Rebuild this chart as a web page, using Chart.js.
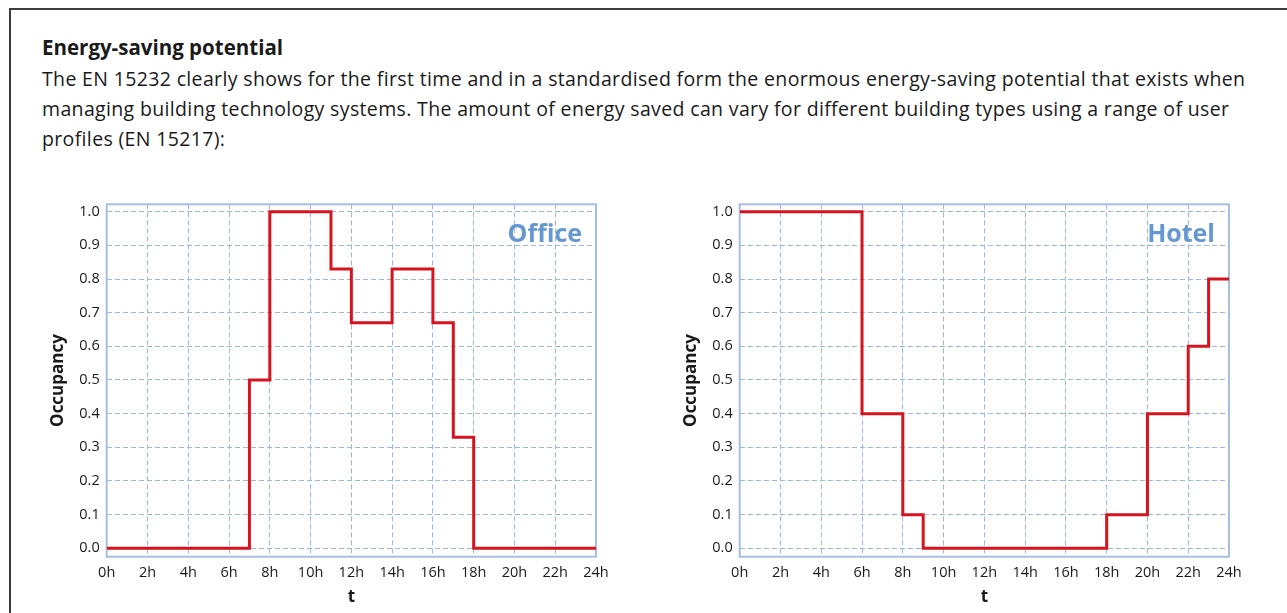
<!DOCTYPE html>
<html>
<head>
<meta charset="utf-8">
<title>Energy-saving potential</title>
<script src="https://cdn.jsdelivr.net/npm/chart.js@4.4.1/dist/chart.umd.min.js"></script>
<style>
  html, body { margin: 0; padding: 0; overflow: hidden; background: #fff; }
  body { width: 1287px; height: 613px; position: relative; font-family: "Open Sans", sans-serif; color: #1a1a1a; }
  .frame { position: absolute; left: 9px; top: 8px; width: 1400px; height: 700px; border-left: 2px solid #3c3c3c; border-top: 2px solid #3c3c3c; }
  h3 { position: absolute; left: 42px; top: 36px; margin: 0; font-size: 20.5px; line-height: 23px; font-weight: 700; white-space: nowrap; }
  p { position: absolute; left: 42px; top: 63.5px; margin: 0; font-size: 19.5px; letter-spacing: 0.35px; line-height: 30px; white-space: nowrap; }
  .chart-box { position: absolute; top: 195px; width: 620px; height: 418px; }
</style>
</head>
<body>
<div class="frame"></div>
<h3>Energy-saving potential</h3>
<p>The EN 15232 clearly shows for the first time and in a standardised form the enormous energy-saving potential that exists when<br>
managing building technology systems. The amount of energy saved can vary for different building types using a range of user<br>
profiles (EN 15217):</p>

<div class="chart-box" style="left:30px"><canvas id="officeChart" width="620" height="418"></canvas></div>
<div class="chart-box" style="left:663px"><canvas id="hotelChart" width="620" height="418"></canvas></div>

<script>
// occupancy profiles, each value holds until the next hour listed
const officeHours = [0, 7, 8, 11, 12, 14, 16, 17, 18, 24];
const officeOccupancy = [0, 0.5, 1.0, 0.83, 0.67, 0.83, 0.67, 0.33, 0, 0];

const hotelHours = [0, 6, 8, 9, 18, 20, 22, 23, 24];
const hotelOccupancy = [1.0, 0.4, 0.1, 0, 0.1, 0.4, 0.6, 0.8, 0.8];

const xTicks = [0, 2, 4, 6, 8, 10, 12, 14, 16, 18, 20, 22, 24];
const yTicks = [0, 0.1, 0.2, 0.3, 0.4, 0.5, 0.6, 0.7, 0.8, 0.9, 1.0];

const lineRed = '#d7141e';
const gridBlue = '#9bb7e6';
const frameBlue = '#a6bee4';
const labelBlue = '#6598d3';
const textColor = '#1a1a1a';

// solid box around the plot area
const plotFrame = {
    id: 'plotFrame',
    beforeDatasetsDraw(chart) {
        const a = chart.chartArea;
        const ctx = chart.ctx;
        ctx.save();
        ctx.strokeStyle = frameBlue;
        ctx.lineWidth = 2;
        ctx.strokeRect(a.left, a.top, a.right - a.left, a.bottom - a.top);
        ctx.restore();
    }
};

// building type name in the top right corner
const cornerLabel = {
    id: 'cornerLabel',
    afterDatasetsDraw(chart, args, opts) {
        const a = chart.chartArea;
        const ctx = chart.ctx;
        ctx.save();
        ctx.font = 'bold 25px "Open Sans"';
        ctx.textAlign = 'right';
        ctx.textBaseline = 'alphabetic';
        ctx.fillStyle = labelBlue;
        ctx.fillText(opts.text, a.right - 14, a.top + 38);
        ctx.restore();
    }
};

function makeChart(id, name, hours, values) {
    const ctx = document.getElementById(id).getContext('2d');
    return new Chart(ctx, {
        type: 'line',
        data: {
            datasets: [{
                data: hours.map((h, i) => ({ x: h, y: values[i] })),
                borderColor: lineRed,
                borderWidth: 3,
                pointRadius: 0,
                stepped: 'before',
                fill: false
            }]
        },
        options: {
            responsive: false,
            animation: false,
            devicePixelRatio: 1,
            layout: { padding: { top: 9.3, right: 54, left: 0, bottom: 0 } },
            plugins: {
                legend: { display: false },
                tooltip: { enabled: false },
                cornerLabel: { text: name }
            },
            scales: {
                x: {
                    type: 'linear',
                    min: 0,
                    max: 24,
                    afterBuildTicks: s => { s.ticks = xTicks.map(v => ({ value: v })); },
                    afterFit: s => { s.height = 56.3; s.paddingLeft = 0; s.paddingRight = 0; },
                    ticks: {
                        callback: v => v + 'h',
                        font: { family: 'Open Sans', size: 14.5 },
                        color: textColor,
                        padding: 7,
                        maxRotation: 0,
                        autoSkip: false
                    },
                    grid: { color: gridBlue, lineWidth: 1, drawTicks: false },
                    border: { display: false, dash: [5, 3] },
                    title: {
                        display: true,
                        text: 't',
                        color: textColor,
                        font: { family: 'Open Sans', size: 17, weight: 'bold' },
                        padding: { top: 0, bottom: 6 }
                    }
                },
                y: {
                    min: -0.025,
                    max: 1.022,
                    afterBuildTicks: s => { s.ticks = yTicks.map(v => ({ value: v })); },
                    afterFit: s => { s.width = 76.7; s.paddingTop = 0; s.paddingBottom = 0; },
                    ticks: {
                        callback: v => v.toFixed(1),
                        font: { family: 'Open Sans', size: 14.5 },
                        color: textColor,
                        padding: 7
                    },
                    grid: { color: gridBlue, lineWidth: 1, drawTicks: false },
                    border: { display: false, dash: [5, 3] },
                    title: {
                        display: true,
                        text: 'Occupancy',
                        color: textColor,
                        font: { family: 'Open Sans', size: 17, weight: 'bold' },
                        padding: { top: 18, bottom: 0 }
                    }
                }
            }
        },
        plugins: [plotFrame, cornerLabel]
    });
}

makeChart('officeChart', 'Office', officeHours, officeOccupancy);
makeChart('hotelChart', 'Hotel', hotelHours, hotelOccupancy);
</script>
</body>
</html>
